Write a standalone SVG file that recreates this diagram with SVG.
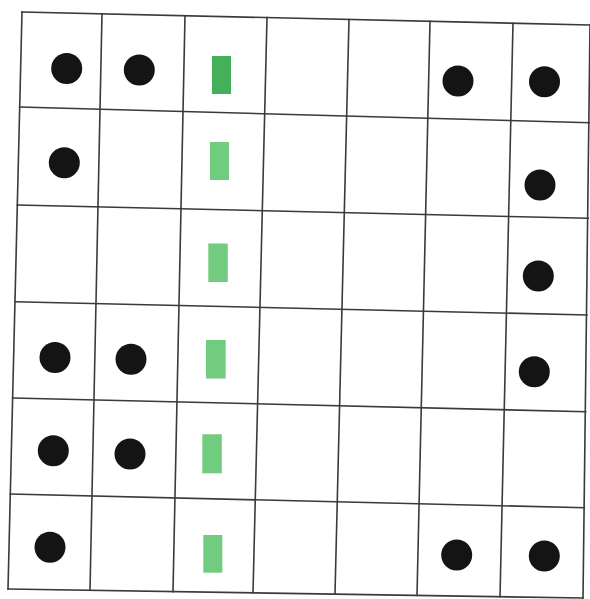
<svg xmlns="http://www.w3.org/2000/svg" width="590" height="599" viewBox="0 0 590 599">
<style>
.g{stroke:#3a3a3a;stroke-width:1.6;fill:none;stroke-linecap:square}
.dot{fill:#141414}
.gr{fill:#72cc80}
.gr1{fill:#45b05a}
</style>
<rect width="590" height="599" fill="#ffffff"/>
<g id="grid">
<line class="g" x1="22" y1="12" x2="8" y2="589"/>
<line class="g" x1="102" y1="13.8" x2="90" y2="590.3"/>
<line class="g" x1="185" y1="15.7" x2="173" y2="591.6"/>
<line class="g" x1="267" y1="17.6" x2="253" y2="592.8"/>
<line class="g" x1="349" y1="19.5" x2="335" y2="594.1"/>
<line class="g" x1="430" y1="21.3" x2="417" y2="595.4"/>
<line class="g" x1="513" y1="23.2" x2="500" y2="596.7"/>
<line class="g" x1="590" y1="25" x2="583" y2="598"/>
<line class="g" x1="22" y1="12" x2="591" y2="25"/>
<line class="g" x1="19.7" y1="107" x2="589.6" y2="122.7"/>
<line class="g" x1="17.3" y1="205" x2="588.3" y2="218.3"/>
<line class="g" x1="15" y1="301.7" x2="587" y2="315"/>
<line class="g" x1="12.6" y1="398" x2="585.6" y2="411.7"/>
<line class="g" x1="10.3" y1="494" x2="584.3" y2="507.7"/>
<line class="g" x1="8" y1="589" x2="583" y2="598"/>
</g>
<g id="dot-r1c1"><circle class="dot" cx="66.7" cy="68.5" r="15.5"/></g>
<g id="dot-r1c2"><circle class="dot" cx="139.3" cy="70" r="15.5"/></g>
<g id="dot-r1c6"><circle class="dot" cx="458" cy="81" r="15.5"/></g>
<g id="dot-r1c7"><circle class="dot" cx="544.5" cy="81.7" r="15.5"/></g>
<g id="dot-r2c1"><circle class="dot" cx="64.3" cy="162.7" r="15.5"/></g>
<g id="dot-r2c7"><circle class="dot" cx="540" cy="185" r="15.5"/></g>
<g id="dot-r3c7"><circle class="dot" cx="538.3" cy="276" r="15.5"/></g>
<g id="dot-r4c1"><circle class="dot" cx="55" cy="357.5" r="15.5"/></g>
<g id="dot-r4c2"><circle class="dot" cx="131" cy="359.3" r="15.5"/></g>
<g id="dot-r4c7"><circle class="dot" cx="534.3" cy="371.7" r="15.5"/></g>
<g id="dot-r5c1"><circle class="dot" cx="53.3" cy="450.7" r="15.5"/></g>
<g id="dot-r5c2"><circle class="dot" cx="130" cy="454" r="15.5"/></g>
<g id="dot-r6c1"><circle class="dot" cx="50" cy="547.3" r="15.5"/></g>
<g id="dot-r6c6"><circle class="dot" cx="456.7" cy="555" r="15.5"/></g>
<g id="dot-r6c7"><circle class="dot" cx="544.3" cy="556" r="15.5"/></g>
<g id="bar-r1"><rect class="gr1" x="212" y="56" width="19" height="38"/></g>
<g id="bar-r2"><rect class="gr" x="210" y="142" width="19" height="38"/></g>
<g id="bar-r3"><rect class="gr" x="208.3" y="243.5" width="19.5" height="38.5"/></g>
<g id="bar-r4"><rect class="gr" x="206" y="340" width="19.7" height="38.5"/></g>
<g id="bar-r5"><rect class="gr" x="202.3" y="434.3" width="19.5" height="39"/></g>
<g id="bar-r6"><rect class="gr" x="203.3" y="535" width="19" height="37.7"/></g>
</svg>
